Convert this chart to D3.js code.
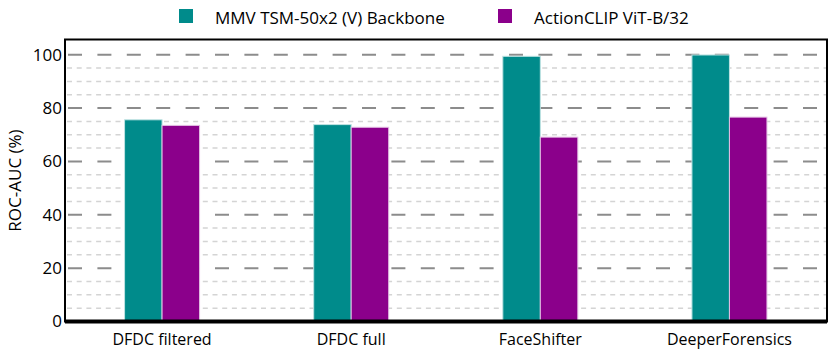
<!DOCTYPE html>
<html>
<head>
<meta charset="utf-8">
<script src="https://cdn.jsdelivr.net/npm/d3@7"></script>
<style>
  body { margin: 0; background: #fff; }
  svg { display: block; font-family: "Open Sans", sans-serif; }
</style>
</head>
<body>
<div class="container"></div>
<script>
const categories = ["DFDC filtered", "DFDC full", "FaceShifter", "DeeperForensics"];
const seriesNames = ["MMV TSM-50x2 (V) Backbone", "ActionCLIP ViT-B/32"];
const mmvValues = [75.6, 73.8, 99.4, 99.9];
const actionClipValues = [73.5, 72.8, 69.1, 76.6];
const yTicks = [0, 20, 40, 60, 80, 100];

const W = 830, H = 354;
const frame = {left: 65, right: 827, top: 39.5, bottom: 321.5};
const colors = ["#008b8b", "#8b008b"];

const svg = d3.select(".container").append("svg").attr("width", W).attr("height", H);

//Scales
const x0 = d3.scaleBand().domain(categories).range([67.5, 824]).padding(0);
const x1 = d3.scaleBand().domain(seriesNames).range([-37.5, 37.5]).padding(0);
const y = d3.scaleLinear().domain([0, 100]).range([frame.bottom, 54.7]);

//Grid lines
const minorTicks = d3.range(5, 105, 5).filter(v => v % 20 !== 0);
svg.append("g").selectAll("line").data(minorTicks).enter().append("line")
  .attr("x1", frame.left + 2).attr("x2", frame.right - 1)
  .attr("y1", d => y(d)).attr("y2", d => y(d))
  .attr("stroke", "#d4d4d4").attr("stroke-width", 1.5).attr("stroke-dasharray", "5 4.7");
svg.append("g").selectAll("line").data(yTicks.filter(d => d > 0)).enter().append("line")
  .attr("x1", frame.left + 3).attr("x2", frame.right - 1)
  .attr("y1", d => y(d)).attr("y2", d => y(d))
  .attr("stroke", "#8c8c8c").attr("stroke-width", 2).attr("stroke-dasharray", "14 15.4");

//Bars
const rows = categories.map((c, i) => ({cat: c, vals: [mmvValues[i], actionClipValues[i]]}));
const groups = svg.selectAll(".grp").data(rows).enter().append("g")
  .attr("transform", d => "translate(" + (x0(d.cat) + x0.bandwidth() / 2) + ",0)");
groups.selectAll("rect").data(d => d.vals.map((v, j) => ({name: seriesNames[j], v: v, j: j})))
  .enter().append("rect")
  .attr("x", d => x1(d.name))
  .attr("width", x1.bandwidth())
  .attr("y", d => y(d.v))
  .attr("height", d => y(0) - y(d.v))
  .attr("fill", d => colors[d.j])
  .attr("stroke", d => d.j === 0 ? "#bfe3e3" : "#e3bfe3").attr("stroke-width", 1);

//Frame
svg.append("rect").attr("x", frame.left).attr("y", frame.top)
  .attr("width", frame.right - frame.left).attr("height", frame.bottom - frame.top)
  .attr("fill", "none").attr("stroke", "#000").attr("stroke-width", 2);
svg.append("line").attr("x1", frame.left).attr("x2", frame.right)
  .attr("y1", frame.bottom).attr("y2", frame.bottom)
  .attr("stroke", "#000").attr("stroke-width", 4);

//Y axis labels
const yAxis = d3.axisLeft(y).tickValues(yTicks).tickSize(0).tickPadding(3);
const gy = svg.append("g").attr("transform", "translate(" + frame.left + ",0)").call(yAxis);
gy.select(".domain").remove();
gy.selectAll("text").attr("font-size", 17).attr("font-family", "Open Sans, sans-serif").attr("fill", "#000");

//X axis labels
const xAxis = d3.axisBottom(x0).tickSize(0).tickPadding(12);
const gx = svg.append("g").attr("transform", "translate(0," + frame.bottom + ")").call(xAxis);
gx.select(".domain").remove();
gx.selectAll("text").attr("font-size", 16).attr("font-family", "Open Sans, sans-serif").attr("fill", "#000");

svg.append("text").attr("transform", "rotate(-90)").attr("x", -(frame.top + frame.bottom) / 2).attr("y", 21)
  .attr("text-anchor", "middle").attr("font-size", 17).text("ROC-AUC (%)");

//Legend
const legendX = [179, 498];
const legend = svg.selectAll(".legend").data(seriesNames).enter().append("g")
  .attr("transform", (d, i) => "translate(" + legendX[i] + ",9)");
legend.append("rect").attr("width", 14).attr("height", 14).attr("fill", (d, i) => colors[i]);
legend.append("text").attr("x", 36).attr("y", 15).attr("font-size", 17).text(d => d);
</script>
</body>
</html>
